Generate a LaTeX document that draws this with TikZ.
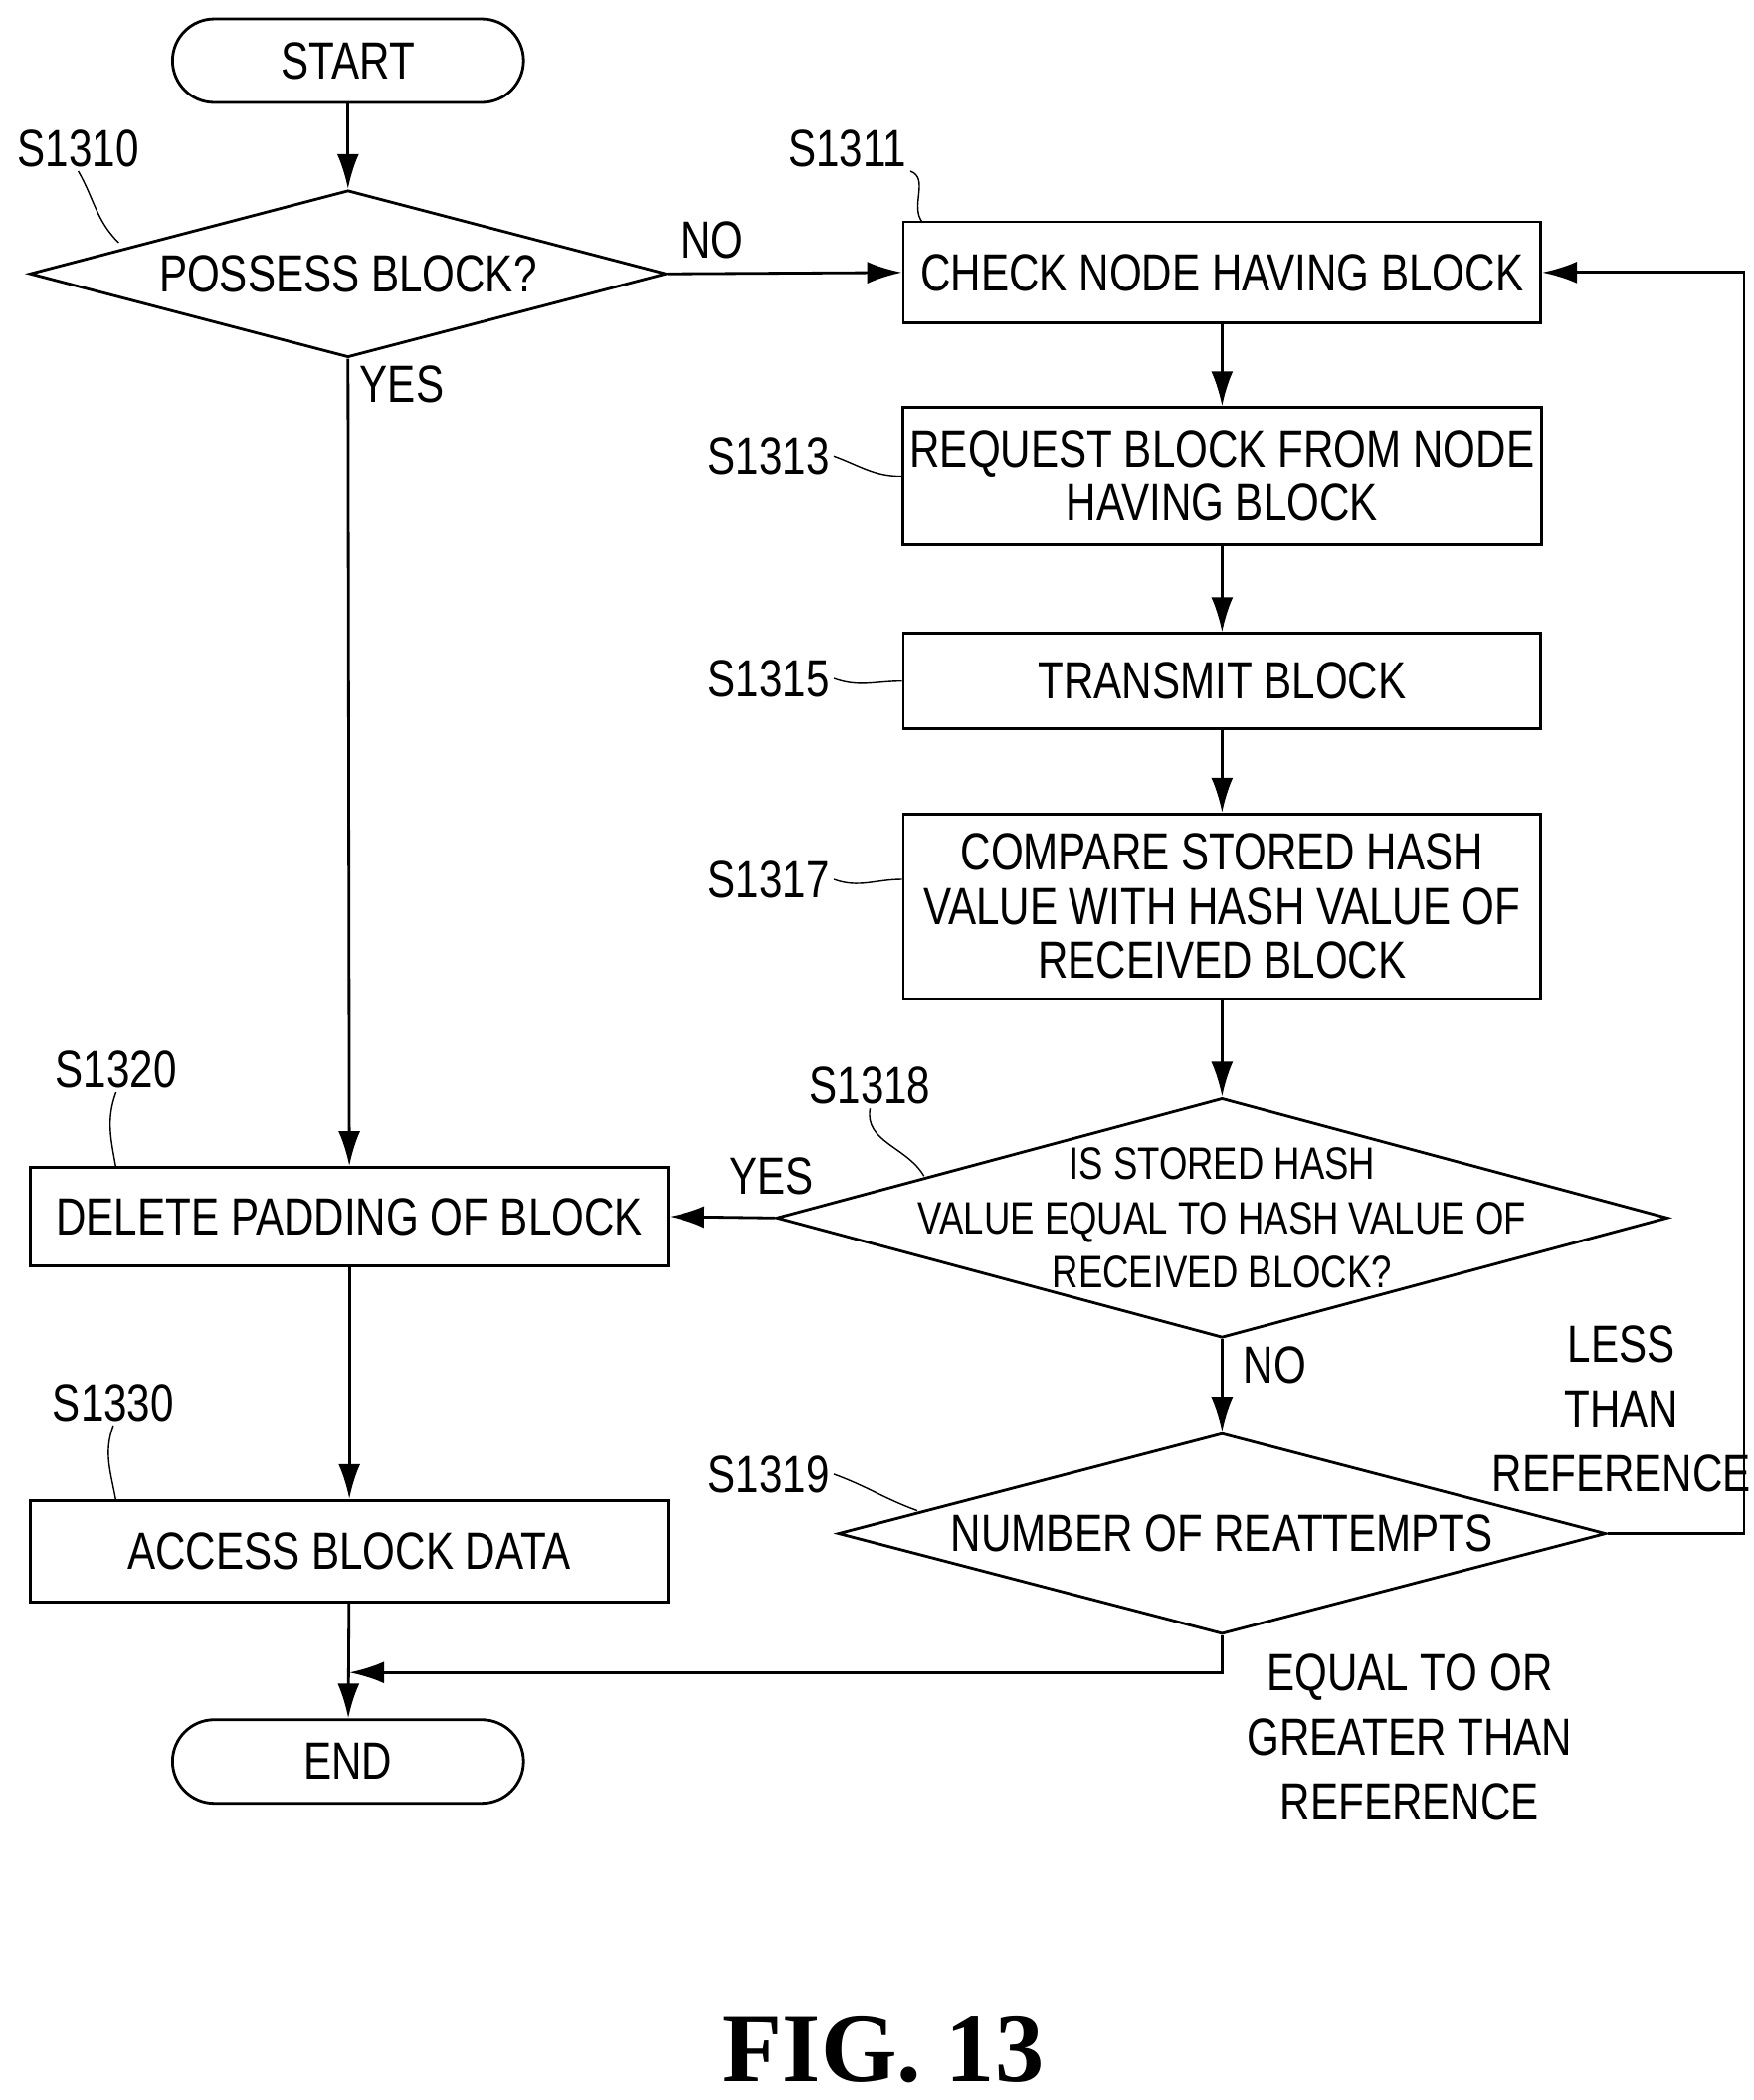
\documentclass[tikz,border=0pt]{standalone}
\usepackage{fontspec}
\setmainfont{Liberation Sans}[FakeStretch=0.8]
\newfontfamily\figfont{Liberation Serif}
\usetikzlibrary{shapes.geometric,arrows.meta}
\begin{document}
\begin{tikzpicture}[
    x=0.01356cm, y=-0.01356cm,
    font=\fontsize{15}{15.5}\selectfont,
    proc/.style={rectangle, draw, thick, minimum width=6.41cm, align=center,
                 inner sep=2pt},
    term/.style={rectangle, draw, thick, rounded corners=0.42cm,
                 minimum width=3.53cm, minimum height=0.84cm},
    cond/.style={diamond, draw, thick, inner sep=0pt},
    ctext/.style={align=center, inner sep=0pt},
    tag/.style={inner sep=1pt},
    arr/.style={-{Latex[length=3.5mm,width=2.2mm]}, thick},
    lead/.style={thin},
    lbl/.style={inner sep=2pt, align=center},
  ]
  \useasboundingbox (0,0) rectangle (1300,1557);

  % Terminals
  \node[term] (start) at (258,45) {START};
  \node[term] (end) at (258,1306) {END};

  % Left column
  \node[cond, minimum width=6.40cm, minimum height=1.68cm] (possess) at (258,203) {};
  \node[ctext] (possessT) at (possess) {POSSESS BLOCK?};
  \node[proc, minimum height=0.99cm] (delete) at (259,902) {DELETE PADDING OF BLOCK};
  \node[proc, minimum height=1.02cm] (access) at (259,1150) {ACCESS BLOCK DATA};

  % Right column
  \node[proc, minimum height=1.02cm] (check) at (906,202) {CHECK NODE HAVING BLOCK};
  \node[proc, minimum height=1.38cm] (request) at (906,353)
    {REQUEST BLOCK FROM NODE\\HAVING BLOCK};
  \node[proc, minimum height=0.96cm] (transmit) at (906,505) {TRANSMIT BLOCK};
  \node[proc, minimum height=1.86cm] (compare) at (906,672)
    {COMPARE STORED HASH\\VALUE WITH HASH VALUE OF\\RECEIVED BLOCK};
  \node[cond, minimum width=8.96cm, minimum height=2.41cm] (equal) at (906,903) {};
  \node[ctext, font=\fontsize{13}{15.5}\selectfont] (equalT) at (equal)
    {IS STORED HASH\\VALUE EQUAL TO HASH VALUE OF\\RECEIVED BLOCK?};
  \node[cond, minimum width=7.72cm, minimum height=2.02cm] (reattempt) at (906,1137) {};
  \node[ctext] (reattemptT) at (reattempt) {NUMBER OF REATTEMPTS};

  % Step tags
  \node[tag] (t1310) at (58,110) {S1310};
  \node[tag] (t1311) at (628,110) {S1311};
  \node[tag] (t1313) at (570,338) {S1313};
  \node[tag] (t1315) at (570,503) {S1315};
  \node[tag] (t1317) at (570,652) {S1317};
  \node[tag] (t1318) at (645,805) {S1318};
  \node[tag] (t1319) at (570,1093) {S1319};
  \node[tag] (t1320) at (86,793) {S1320};
  \node[tag] (t1330) at (84,1040) {S1330};

  \coordinate (e1310) at (88,180);
  \coordinate (e1311) at (684,165);
  \coordinate (e1318) at (685,872);
  \coordinate (e1319) at (680,1120);
  \coordinate (e1320) at (86,866);
  \coordinate (e1330) at (86,1113);

  \draw[lead] (t1310.south) to[out=-60,in=135] (e1310);
  \draw[lead] (t1311.south east) to[out=-20,in=130] (e1311);
  \draw[lead] (t1313.east) to[out=-20,in=180] (request.west);
  \draw[lead] (t1315.east) to[out=-20,in=180] (transmit.west);
  \draw[lead] (t1317.east) to[out=-20,in=180] (compare.west |- t1317);
  \draw[lead] (t1318.south) to[out=-100,in=120] (e1318);
  \draw[lead] (t1319.east) to[out=-20,in=160] (e1319);
  \draw[lead] (t1320.south) to[out=-110,in=100] (e1320);
  \draw[lead] (t1330.south) to[out=-110,in=100] (e1330);

  % Flow
  \draw[arr] (start) -- (possess);
  \draw[arr] (possess.east) -- (check.west);
  \draw[arr] (possess.south) -- (delete.north);
  \draw[arr] (check) -- (request);
  \draw[arr] (request) -- (transmit);
  \draw[arr] (transmit) -- (compare);
  \draw[arr] (compare) -- (equal);
  \draw[arr] (equal.west) -- (delete.east);
  \draw[arr] (equal.south) -- (reattempt.north);
  \draw[arr] (delete) -- (access);
  \draw[arr] (access) -- (end);
  \coordinate (loop) at (1293,1137);
  \draw[arr] (reattempt.east) -- (loop) |- (check.east);
  \coordinate (merge) at (906,1240);
  \draw[arr] (reattempt.south) -- (merge) -- (access.south |- merge);

  % Branch labels
  \node[lbl] (no1) at (528,178) {NO};
  \node[lbl] (yes1) at (298,285) {YES};
  \node[lbl] (yes2) at (572,872) {YES};
  \node[lbl] (no2) at (945,1012) {NO};
  \node[lbl, font=\fontsize{15}{18.5}\selectfont] (less) at (1202,1045)
    {LESS\\THAN\\REFERENCE};
  \node[lbl, font=\fontsize{15}{18.5}\selectfont] (geq) at (1045,1288)
    {EQUAL TO OR\\GREATER THAN\\REFERENCE};

  % Caption
  \node[font=\figfont\fontsize{28}{28}\selectfont\bfseries] (fig) at (655,1520) {FIG. 13};
\end{tikzpicture}
\end{document}
